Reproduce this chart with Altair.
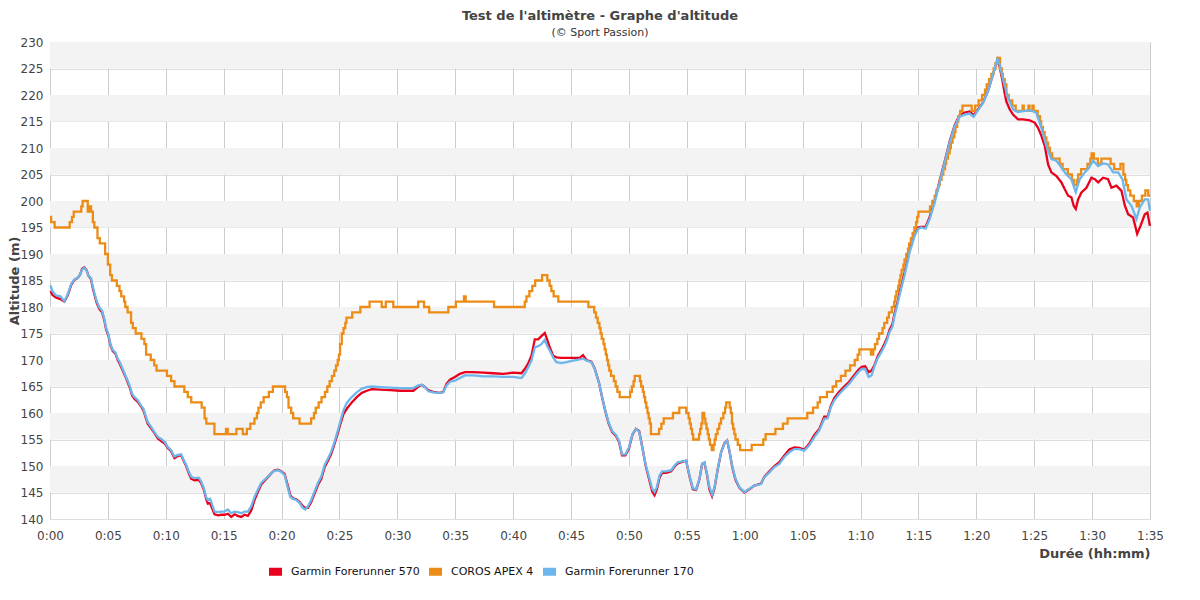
import altair as alt
import pandas as pd

# ---- Garmin Forerunner 170 (blue) ----
t170 = [0.05, 0.2, 0.5, 0.9, 1.24, 1.53, 1.82, 2.1, 2.39, 2.6, 2.77, 2.97, 3.17, 3.34, 3.54, 3.69, 3.83, 4.03, 4.27, 4.5,
        4.7, 4.84, 5.04, 5.22, 5.42, 5.65, 5.85, 6.0, 6.28, 6.51, 6.71, 6.92, 7.09, 7.29, 7.58, 7.87, 8.07, 8.24, 8.44, 8.73,
        9.02, 9.31, 9.6, 9.88, 10.17, 10.46, 10.75, 11.04, 11.33, 11.56, 11.76, 11.99, 12.19, 12.48, 12.85, 13.05, 13.29, 13.49, 13.63, 13.83,
        14.0, 14.21, 14.5, 14.78, 15.07, 15.36, 15.65, 15.94, 16.22, 16.51, 16.8, 17.09, 17.38, 17.67, 17.95, 18.24, 18.53, 18.82, 19.11, 19.39,
        19.68, 19.97, 20.26, 20.55, 20.75, 20.98, 21.27, 21.56, 21.84, 22.05, 22.28, 22.56, 22.85, 23.14, 23.43, 23.72, 24.01, 24.29, 24.58, 24.87,
        25.06, 25.34, 25.63, 26.06, 26.49, 26.93, 27.36, 27.79, 28.5, 29.37, 30.23, 31.38, 31.81, 32.1, 32.38, 32.67, 33.1, 33.68, 33.97, 34.25,
        34.54, 34.97, 35.4, 35.83, 36.55, 37.41, 38.28, 39.14, 40.0, 40.72, 41.0, 41.29, 41.58, 41.87, 42.16, 42.44, 42.73, 42.93, 43.16, 43.45,
        43.74, 44.17, 44.6, 45.17, 45.75, 46.03, 46.32, 46.75, 47.04, 47.4, 47.7, 47.95, 48.25, 48.55, 48.9, 49.15, 49.4, 49.7, 50.0, 50.3,
        50.6, 50.88, 51.15, 51.45, 51.75, 52.01, 52.21, 52.41, 52.64, 52.87, 53.22, 53.65, 53.94, 54.22, 54.66, 54.94, 55.23, 55.52, 55.8, 56.09,
        56.32, 56.52, 56.72, 56.95, 57.18, 57.39, 57.67, 57.96, 58.25, 58.48, 58.68, 58.91, 59.2, 59.54, 59.97, 60.4, 60.83, 61.41, 61.7, 62.13,
        62.56, 62.99, 63.42, 63.85, 64.28, 64.71, 65.14, 65.57, 66.0, 66.44, 66.87, 67.16, 67.44, 67.73, 68.16, 68.59, 69.02, 69.4, 69.8, 70.1,
        70.4, 70.7, 70.95, 71.2, 71.5, 71.9, 72.1, 72.33, 72.51, 72.76, 72.94, 73.19, 73.37, 73.8, 74.24, 74.67, 74.96, 75.24, 75.62, 75.97,
        76.4, 76.83, 77.26, 77.69, 78.13, 78.56, 78.99, 79.42, 79.77, 80.14, 80.58, 81.01, 81.44, 81.82, 82.02, 82.25, 82.45, 82.74, 83.17, 83.6,
        84.18, 84.76, 85.19, 85.62, 86.05, 86.48, 86.92, 87.35, 87.78, 88.21, 88.59, 88.93, 89.37, 89.74, 90.09, 90.52, 90.95, 91.38, 91.82, 92.25,
        92.62, 92.97, 93.4, 93.83, 94.12, 94.55, 94.84, 94.99]
alt170 = [184.1, 183.0, 182.2, 182.0, 181.1, 182.4, 184.3, 185.2, 185.5, 186.1, 187.1, 187.4, 186.8, 185.8, 185.5, 183.9, 182.7, 181.1, 179.9, 179.3,
          177.7, 176.1, 174.9, 173.0, 171.9, 171.4, 170.2, 169.7, 168.3, 167.1, 166.1, 164.9, 163.6, 163.0, 162.4, 161.4, 160.8, 159.6, 158.3, 157.4,
          156.4, 155.5, 155.1, 154.6, 153.6, 153.0, 151.8, 152.1, 152.2, 151.1, 150.2, 148.9, 148.0, 147.7, 147.8, 147.1, 145.8, 144.1, 143.6, 143.8,
          142.7, 141.4, 141.3, 141.4, 141.4, 141.8, 141.1, 141.4, 141.3, 141.1, 141.4, 141.4, 142.4, 144.2, 145.5, 146.8, 147.4, 148.0, 148.6, 149.1,
          149.2, 148.9, 148.3, 145.8, 144.2, 143.8, 143.6, 143.0, 142.1, 141.8, 142.4, 143.6, 145.2, 146.8, 148.0, 150.2, 151.4, 152.7, 154.6, 156.8,
          158.3, 160.5, 161.9, 163.0, 163.9, 164.6, 164.9, 165.0, 164.9, 164.8, 164.7, 164.7, 165.2, 165.3, 164.9, 164.1, 163.9, 163.8, 163.9, 165.2,
          165.9, 166.1, 166.6, 167.1, 167.1, 166.9, 166.9, 166.8, 166.8, 166.6, 167.4, 168.6, 169.9, 172.4, 172.6, 173.0, 173.8, 172.7, 171.8, 170.5,
          169.6, 169.4, 169.6, 169.9, 170.1, 170.3, 169.9, 169.6, 168.3, 165.8, 162.9, 160.5, 158.2, 156.6, 155.8, 154.7, 152.2, 152.2, 153.5, 156.0,
          157.0, 156.5, 153.5, 150.2, 147.8, 145.7, 145.1, 146.0, 148.2, 149.0, 149.0, 149.2, 150.1, 150.7, 150.9, 151.0, 148.2, 145.8, 145.6, 147.6,
          150.4, 150.7, 148.8, 146.0, 144.6, 146.0, 149.5, 152.6, 154.2, 154.8, 152.9, 150.1, 147.6, 146.0, 145.1, 145.7, 146.3, 146.6, 147.9, 148.8,
          149.8, 150.4, 151.7, 152.6, 153.2, 153.2, 152.9, 153.9, 155.4, 156.7, 158.9, 159.0, 161.1, 162.4, 163.6, 164.6, 165.5, 166.6, 167.7, 168.3,
          168.3, 166.8, 167.1, 168.8, 170.4, 171.9, 172.8, 174.0, 175.3, 176.3, 178.4, 180.5, 182.2, 186.0, 190.3, 193.4, 194.7, 195.0, 194.8, 196.6,
          199.7, 203.5, 207.2, 211.0, 214.1, 215.9, 216.3, 216.5, 215.9, 217.1, 218.5, 220.7, 223.9, 226.8, 225.7, 223.5, 221.7, 219.5, 217.3, 216.8,
          217.0, 217.1, 216.6, 213.8, 210.4, 207.9, 207.6, 206.3, 205.0, 204.1, 201.7, 204.1, 205.4, 206.3, 207.6, 206.6, 207.1, 206.9, 205.4, 205.4,
          204.1, 200.3, 199.1, 196.6, 198.8, 200.3, 200.3, 198.2]

# ---- Garmin Forerunner 570 (red) ----
t570 = [0.05, 0.2, 0.5, 0.9, 1.24, 1.53, 1.82, 2.1, 2.39, 2.6, 2.77, 2.97, 3.17, 3.34, 3.54, 3.69, 3.83, 4.03, 4.27, 4.5,
        4.7, 4.84, 5.04, 5.22, 5.42, 5.65, 5.85, 6.0, 6.28, 6.51, 6.71, 6.92, 7.09, 7.29, 7.58, 7.87, 8.07, 8.24, 8.44, 8.73,
        9.02, 9.31, 9.6, 9.88, 10.17, 10.46, 10.75, 11.04, 11.33, 11.56, 11.76, 11.99, 12.19, 12.48, 12.85, 13.05, 13.29, 13.49, 13.63, 13.83,
        14.0, 14.21, 14.5, 14.78, 15.07, 15.36, 15.65, 15.94, 16.22, 16.51, 16.8, 17.09, 17.38, 17.67, 17.95, 18.24, 18.53, 18.82, 19.11, 19.39,
        19.68, 19.97, 20.26, 20.55, 20.75, 20.98, 21.27, 21.56, 21.84, 22.05, 22.28, 22.56, 22.85, 23.14, 23.43, 23.72, 24.01, 24.29, 24.58, 24.87,
        25.06, 25.34, 25.63, 26.06, 26.49, 26.93, 27.36, 27.79, 28.5, 29.37, 30.23, 31.38, 31.81, 32.1, 32.38, 32.67, 33.1, 33.68, 33.97, 34.25,
        34.54, 34.97, 35.4, 35.83, 36.55, 37.41, 38.28, 39.14, 40.0, 40.72, 41.0, 41.29, 41.58, 41.87, 42.16, 42.44, 42.73, 42.93, 43.16, 43.45,
        43.74, 44.17, 44.6, 45.17, 45.75, 46.03, 46.32, 46.75, 47.04, 47.4, 47.7, 47.95, 48.25, 48.55, 48.9, 49.15, 49.4, 49.7, 50.0, 50.3,
        50.6, 50.88, 51.15, 51.45, 51.75, 52.01, 52.21, 52.41, 52.64, 52.87, 53.22, 53.65, 53.94, 54.22, 54.66, 54.94, 55.23, 55.52, 55.8, 56.09,
        56.32, 56.52, 56.72, 56.95, 57.18, 57.39, 57.67, 57.96, 58.25, 58.48, 58.68, 58.91, 59.2, 59.54, 59.97, 60.4, 60.83, 61.41, 61.7, 62.13,
        62.56, 62.99, 63.42, 63.85, 64.28, 64.71, 65.14, 65.57, 66.0, 66.44, 66.87, 67.16, 67.44, 67.73, 68.16, 68.59, 69.02, 69.4, 69.8, 70.1,
        70.4, 70.7, 70.95, 71.2, 71.5, 71.9, 72.1, 72.33, 72.51, 72.76, 72.94, 73.19, 73.37, 73.8, 74.24, 74.67, 74.96, 75.24, 75.62, 75.97,
        76.4, 76.83, 77.26, 77.69, 78.13, 78.56, 78.99, 79.42, 79.77, 80.14, 80.58, 81.01, 81.44, 81.82, 82.02, 82.25, 82.45, 82.59, 82.88, 83.17,
        83.6, 84.03, 84.61, 85.04, 85.33, 85.62, 85.91, 86.2, 86.48, 86.92, 87.35, 87.64, 87.93, 88.21, 88.41, 88.59, 88.79, 89.08, 89.51, 89.94,
        90.23, 90.52, 90.95, 91.38, 91.67, 92.1, 92.54, 92.83, 93.11, 93.54, 93.89, 94.18, 94.55, 94.78, 94.99]
alt570 = [183.0, 182.3, 181.8, 181.5, 181.0, 182.2, 184.1, 185.1, 185.5, 186.1, 187.2, 187.5, 186.9, 185.8, 185.3, 183.6, 182.4, 180.8, 179.6, 179.0,
          177.4, 175.8, 174.6, 172.8, 171.7, 171.2, 170.0, 169.4, 168.0, 166.9, 165.8, 164.6, 163.3, 162.7, 162.1, 161.2, 160.5, 159.3, 158.0, 157.1,
          156.2, 155.2, 154.7, 154.3, 153.4, 152.8, 151.5, 151.9, 152.0, 150.9, 150.0, 148.6, 147.6, 147.3, 147.4, 146.8, 145.5, 143.8, 142.9, 143.0,
          142.0, 140.9, 140.7, 140.8, 140.8, 141.0, 140.4, 140.9, 140.6, 140.4, 140.8, 140.6, 141.6, 143.6, 145.1, 146.5, 147.2, 147.9, 148.6, 149.2,
          149.3, 149.0, 148.5, 146.2, 144.5, 143.9, 143.7, 143.2, 142.4, 142.1, 142.1, 143.2, 144.8, 146.4, 147.6, 149.8, 151.0, 152.3, 154.2, 156.3,
          157.8, 159.8, 160.8, 162.0, 163.0, 163.8, 164.2, 164.5, 164.4, 164.3, 164.2, 164.2, 165.0, 165.3, 164.9, 164.3, 164.0, 163.8, 164.0, 165.5,
          166.3, 166.8, 167.4, 167.7, 167.7, 167.6, 167.5, 167.4, 167.6, 167.5, 168.3, 169.3, 170.8, 173.9, 173.9, 174.5, 175.1, 173.9, 172.4, 170.8,
          170.5, 170.4, 170.4, 170.4, 170.4, 170.9, 170.0, 169.7, 168.4, 165.8, 162.8, 160.4, 158.0, 156.4, 155.6, 154.5, 152.0, 152.0, 153.3, 155.9,
          157.0, 156.6, 153.6, 150.0, 147.4, 145.2, 144.5, 145.6, 147.8, 148.7, 148.7, 149.0, 149.9, 150.5, 150.8, 151.0, 148.0, 145.6, 145.5, 147.5,
          150.4, 150.6, 148.6, 145.6, 144.3, 145.8, 149.4, 152.6, 154.3, 154.8, 152.8, 149.9, 147.4, 145.9, 145.0, 145.6, 146.3, 146.7, 148.0, 149.0,
          150.0, 150.7, 152.0, 153.1, 153.5, 153.4, 153.1, 154.2, 155.8, 157.0, 159.3, 159.3, 161.4, 162.8, 164.0, 165.0, 165.9, 167.0, 168.1, 168.7,
          168.8, 167.7, 168.0, 169.0, 170.8, 172.3, 173.2, 174.4, 175.7, 176.8, 178.8, 181.0, 182.8, 186.5, 190.8, 193.8, 195.0, 195.1, 195.1, 197.0,
          200.0, 203.8, 207.4, 211.2, 214.3, 216.2, 216.7, 216.9, 216.2, 217.3, 218.6, 220.8, 223.9, 226.6, 225.3, 222.8, 220.3, 218.8, 217.3, 216.3,
          215.4, 215.4, 215.2, 214.8, 213.8, 212.3, 210.4, 206.9, 205.4, 204.7, 203.5, 202.2, 201.0, 200.7, 199.1, 198.5, 200.3, 201.6, 202.5, 204.4,
          204.1, 203.5, 204.4, 204.1, 202.5, 202.9, 201.9, 199.1, 197.5, 196.9, 193.8, 195.3, 197.5, 197.8, 195.3]

# ---- COROS APEX 4 (orange, 1 m steps) ----
tcoros = [0, 0.1, 0.4, 1.7, 1.9, 2.05, 2.7, 2.82, 3.26, 3.4, 3.55, 3.7, 3.83, 4.1, 4.3, 4.76, 5.0, 5.2, 5.35, 5.77,
          6.0, 6.15, 6.4, 6.5, 6.7, 7.0, 7.15, 7.4, 7.9, 8.15, 8.3, 8.7, 9.0, 9.2, 10.1, 10.46, 10.75, 11.6, 11.9, 12.2,
          13.1, 13.35, 13.5, 14.2, 15.2, 15.35, 16.1, 16.65, 17.0, 17.3, 17.66, 17.87, 18.0, 18.2, 18.45, 18.9, 19.25, 20.3, 20.46, 20.6,
          20.83, 21.0, 21.55, 22.55, 22.8, 22.95, 23.2, 23.45, 23.75, 23.95, 24.15, 24.35, 24.55, 24.7, 24.85, 24.95, 25.05, 25.2, 25.35, 25.5,
          25.6, 26.1, 26.8, 27.6, 28.65, 29.0, 29.65, 31.8, 32.3, 32.75, 34.4, 35.05, 35.75, 35.9, 38.35, 41.0, 41.15, 41.4, 41.65, 41.9,
          42.05, 42.5, 42.95, 43.15, 43.3, 43.5, 43.9, 46.5, 47.0, 47.15, 47.3, 47.45, 47.55, 47.65, 47.8, 47.9, 48.0, 48.1, 48.2, 48.3,
          48.45, 48.7, 48.85, 49.0, 49.2, 50.1, 50.25, 50.4, 50.5, 50.95, 51.05, 51.2, 51.3, 51.4, 51.5, 51.6, 51.7, 51.8, 51.9, 52.6,
          52.8, 53.0, 53.8, 54.35, 54.95, 55.15, 55.25, 55.35, 55.45, 55.55, 56.05, 56.15, 56.25, 56.35, 56.5, 56.6, 56.7, 56.8, 56.9, 57.0,
          57.15, 57.3, 57.4, 57.5, 57.65, 57.8, 57.95, 58.15, 58.3, 58.4, 58.7, 58.8, 58.9, 59.0, 59.1, 59.2, 59.4, 59.6, 60.6, 61.6,
          61.8, 62.65, 63.3, 63.7, 65.4, 65.9, 66.3, 66.5, 67.1, 67.6, 67.9, 68.3, 68.7, 69.1, 69.5, 69.75, 69.9, 70.9, 71.1, 71.25,
          71.45, 71.6, 71.9, 72.05, 72.3, 72.45, 72.7, 72.9, 73.0, 73.1, 73.25, 73.35, 73.45, 73.55, 73.7, 73.8, 73.95, 74.1, 74.2, 74.35,
          74.5, 74.65, 74.8, 74.9, 75.0, 76.0, 76.2, 76.4, 76.55, 76.7, 76.85, 77.0, 77.15, 77.3, 77.4, 77.55, 77.7, 77.8, 77.95, 78.1,
          78.2, 78.35, 78.45, 78.6, 78.8, 79.6, 79.9, 80.2, 80.5, 80.75, 80.9, 81.1, 81.3, 81.5, 81.65, 81.8, 82.05, 82.2, 82.3, 82.45,
          82.6, 82.8, 83.1, 83.4, 84.0, 84.1, 84.5, 84.6, 84.85, 84.95, 85.3, 85.5, 85.6, 85.75, 85.9, 86.05, 86.2, 86.35, 86.55, 87.2,
          87.45, 87.9, 88.25, 88.45, 88.7, 88.8, 89.05, 89.6, 89.85, 89.95, 90.15, 90.5, 90.8, 91.6, 91.9, 92.45, 92.7, 92.85, 92.95, 93.1,
          93.3, 93.6, 93.85, 94.05, 94.3, 94.6, 94.85, 95.0]
altcoros = [197, 196, 195, 196, 197, 198, 199, 200, 198, 199, 198, 196, 195, 193, 192, 190, 188, 186, 185, 184,
            183, 182, 181, 180, 179, 177, 176, 175, 174, 173, 171, 170, 169, 168, 167, 166, 165, 164, 163, 162,
            161, 159, 158, 156, 157, 156, 157, 156, 157, 158, 159, 160, 161, 162, 163, 164, 165, 164, 163, 161,
            160, 159, 158, 159, 160, 161, 162, 163, 164, 165, 166, 167, 168, 169, 170, 171, 173, 175, 176, 177,
            178, 179, 180, 181, 180, 181, 180, 181, 180, 179, 180, 181, 182, 181, 180, 181, 182, 183, 184, 185,
            185, 186, 185, 184, 183, 182, 181, 180, 179, 178, 177, 176, 175, 174, 173, 172, 171, 170, 169, 168,
            167, 166, 165, 164, 163, 164, 165, 166, 167, 166, 165, 164, 163, 162, 161, 160, 159, 158, 156, 157,
            158, 159, 160, 161, 160, 159, 158, 157, 156, 155, 156, 157, 158, 160, 159, 158, 157, 156, 155, 154,
            153, 154, 155, 156, 157, 158, 159, 160, 161, 162, 161, 160, 158, 157, 156, 155, 154, 153, 154, 155,
            156, 157, 158, 159, 160, 161, 162, 163, 164, 165, 166, 167, 168, 169, 170, 171, 172, 171, 172, 173,
            174, 175, 176, 177, 178, 179, 180, 181, 182, 183, 184, 185, 186, 187, 188, 189, 190, 191, 192, 193,
            194, 195, 196, 197, 198, 199, 200, 201, 202, 203, 204, 205, 206, 207, 208, 209, 210, 211, 212, 213,
            214, 215, 216, 217, 218, 217, 218, 219, 220, 221, 222, 223, 224, 225, 226, 227, 225, 224, 223, 222,
            220, 219, 218, 217, 218, 217, 218, 217, 218, 217, 216, 215, 214, 213, 212, 211, 210, 209, 208, 207,
            206, 205, 204, 203, 204, 205, 206, 207, 208, 209, 208, 207, 208, 207, 206, 207, 205, 204, 203, 202,
            201, 200, 199, 200, 201, 202, 201, 201]

series_names = ["Garmin Forerunner 570", "COROS APEX 4", "Garmin Forerunner 170"]
series_colors = ["#e8001c", "#ec8c16", "#6cb6ec"]
x_ticks = list(range(0, 96, 5))
y_ticks = list(range(140, 231, 5))
band_lo = list(range(145, 230, 10))

FONT = "DejaVu Sans"

df570 = pd.DataFrame({"t": t570, "alt": alt570, "series": series_names[0]})
dfcoros = pd.DataFrame({"t": tcoros, "alt": altcoros, "series": series_names[1]})
df170 = pd.DataFrame({"t": t170, "alt": alt170, "series": series_names[2]})
dfband = pd.DataFrame({"t": [x_ticks[0]] * len(band_lo), "t2": [x_ticks[-1]] * len(band_lo),
                       "alt": band_lo, "alt2": [b + 5 for b in band_lo]})

x_axis = alt.Axis(values=x_ticks, title="Durée (hh:mm)",
                  labelExpr="floor(datum.value/60) + ':' + (datum.value % 60 < 10 ? '0' : '') + (datum.value % 60)",
                  labelFont=FONT, labelFontSize=12, labelColor="#444", labelPadding=11, labelFlush=False,
                  ticks=False, domain=False, gridColor="#cccccc", gridWidth=1,
                  titleFont=FONT, titleFontSize=13, titleFontWeight="bold", titleColor="#444",
                  titleAnchor="end", titlePadding=6)
y_axis = alt.Axis(values=y_ticks, title="Altitude (m)",
                  labelFont=FONT, labelFontSize=12, labelColor="#444", labelPadding=7,
                  ticks=False, domain=False, gridColor="#dedede", gridWidth=1,
                  titleFont=FONT, titleFontSize=13, titleFontWeight="bold", titleColor="#444",
                  titlePadding=-1)
xs = alt.Scale(domain=[0, 95], nice=False, zero=False)
ys = alt.Scale(domain=[140, 230], nice=False, zero=False)

legend = alt.Legend(orient="none", legendX=219, legendY=523, direction="horizontal", title=None,
                    symbolType="M-1,-0.45L1,-0.45L1,0.45L-1,0.45Z", symbolSize=81, symbolStrokeWidth=4,
                    labelFont=FONT, labelFontSize=11, labelColor="#111", labelLimit=300,
                    columnPadding=3, labelOffset=9, padding=0)
color = alt.Color("series:N", scale=alt.Scale(domain=series_names, range=series_colors), legend=legend)

bands = alt.Chart(dfband).mark_rect(color="#f3f3f3").encode(
    x=alt.X("t:Q", scale=xs, axis=x_axis), x2="t2:Q",
    y=alt.Y("alt:Q", scale=ys, axis=y_axis), y2="alt2:Q")

def line(df, interp):
    return alt.Chart(df).mark_line(strokeWidth=2.3, interpolate=interp).encode(
        x=alt.X("t:Q", scale=xs, axis=x_axis),
        y=alt.Y("alt:Q", scale=ys, axis=y_axis),
        color=color)

chart = alt.layer(
    bands,
    line(df570, "linear"),
    line(dfcoros, "step-after"),
    line(df170, "linear"),
).properties(
    width=1100, height=477,
    title=alt.TitleParams(text="Test de l'altimètre - Graphe d'altitude", subtitle="(© Sport Passion)",
                          font=FONT, fontSize=13, fontWeight="bold", color="#444",
                          subtitleFont=FONT, subtitleFontSize=11, subtitleColor="#333",
                          anchor="middle", offset=-2, subtitlePadding=4),
    padding={"left": 42, "top": 34, "right": 42, "bottom": 73},
    autosize=alt.AutoSizeParams(type="none"),
).configure_view(stroke="#cccccc", strokeWidth=1).configure(background="white")

chart.save("out.html", embed_options={"renderer": "svg", "actions": False})
